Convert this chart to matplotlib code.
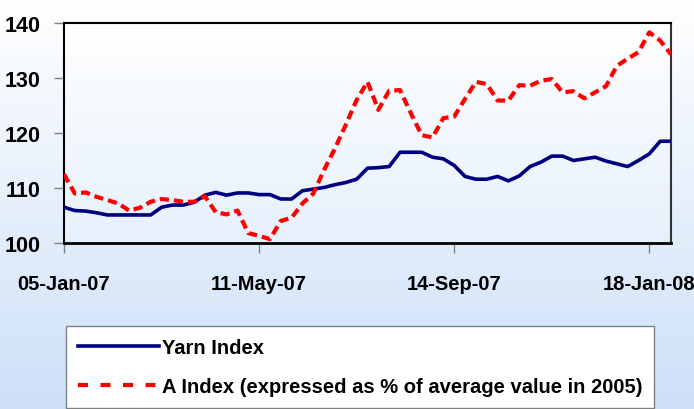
import numpy as np
import matplotlib
matplotlib.use("Agg")
import matplotlib.pyplot as plt
from matplotlib.lines import Line2D
from matplotlib.colors import LinearSegmentedColormap

plt.rcParams['font.family'] = ['Liberation Sans', 'DejaVu Sans']
plt.rcParams['font.weight'] = 'bold'

# weekly observations starting 05-Jan-07
weeks = list(range(57))
yarn_index = [106.5, 105.9, 105.8, 105.5, 105.1, 105.1, 105.1, 105.1, 105.1, 106.5,
              106.9, 106.9, 107.4, 108.7, 109.2, 108.7, 109.1, 109.1, 108.8, 108.8,
              108.0, 108.0, 109.5, 109.8, 110.1, 110.6, 111.0, 111.6, 113.6, 113.7,
              113.9, 116.5, 116.5, 116.5, 115.6, 115.3, 114.1, 112.1, 111.6, 111.6,
              112.1, 111.3, 112.2, 113.9, 114.7, 115.8, 115.8, 115.0, 115.3, 115.6,
              114.9, 114.4, 113.9, 115.0, 116.2, 118.5, 118.5]
a_index = [112.5, 109.0, 109.2, 108.4, 107.8, 107.2, 105.9, 106.4, 107.5, 108.0,
           107.8, 107.5, 107.5, 108.5, 105.6, 105.2, 105.9, 101.8, 101.3, 100.7,
           104.0, 104.6, 107.2, 109.0, 113.3, 117.2, 121.5, 126.0, 129.3, 124.2,
           127.7, 127.8, 123.6, 119.6, 119.2, 122.7, 123.0, 126.2, 129.3, 128.9,
           125.9, 125.9, 128.7, 128.6, 129.5, 129.8, 127.4, 127.6, 126.3, 127.4,
           128.5, 132.2, 133.5, 134.7, 138.3, 136.8, 134.3]
tick_weeks = [0, 18, 36, 54]
tick_labels = ['05-Jan-07', '11-May-07', '14-Sep-07', '18-Jan-08']
y_ticks = [100, 110, 120, 130, 140]
series_labels = ['Yarn Index', 'A Index (expressed as % of average value in 2005)']

W, H = 694, 410
fig = plt.figure(figsize=(W / 100, H / 100), dpi=100)

# figure background gradient
bg = fig.add_axes([0, 0, 1, 1], zorder=-10)
cmap_bg = LinearSegmentedColormap.from_list('bg', ['#ffffff', '#cde0f8'])
grad = np.linspace(0, 1, 256).reshape(-1, 1)
bg.imshow(grad, aspect='auto', cmap=cmap_bg, extent=[0, 1, 0, 1], origin='upper')
bg.axis('off')

left, right, top, bottom = 64, 671, 24, 244
ax = fig.add_axes([left / W, 1 - bottom / H, (right - left) / W, (bottom - top) / H])
cmap_ax = LinearSegmentedColormap.from_list('ax', ['#ffffff', '#e6f0fc'])
ax.imshow(grad, aspect='auto', cmap=cmap_ax, extent=[0, 56, 100, 140], origin='upper', zorder=0)

ax.plot(weeks, yarn_index, color='#000080', lw=2.6, solid_capstyle='butt', zorder=3)
ax.plot(weeks, a_index, color='#ff0000', lw=3.0, dashes=(2.2, 1.2), zorder=4)

ax.set_xlim(0, 56)
ax.set_ylim(100, 140)
ax.set_xticks(tick_weeks)
ax.set_xticklabels(tick_labels)
ax.set_yticks(y_ticks)
ax.tick_params(axis='x', labelsize=14.5, length=7, width=1, color='#808080', direction='out', pad=15)
ax.tick_params(axis='y', labelsize=15.5, length=7, width=1, color='#808080', direction='out', pad=10)
for lab in ax.get_xticklabels() + ax.get_yticklabels():
    lab.set_fontweight('bold')
for side in ['left', 'bottom', 'top']:
    ax.spines[side].set_color('#000000')
    ax.spines[side].set_linewidth(1.5)
ax.spines['right'].set_color('#333333')
ax.spines['right'].set_linewidth(1.5)
ax.spines['bottom'].set_linewidth(2.0)

handles = [Line2D([], [], color='#000080', lw=2.6),
           Line2D([], [], color='#ff0000', lw=3.0, dashes=(2.4, 3.0))]
leg = fig.legend(handles, series_labels, loc='upper left',
                 bbox_to_anchor=(66 / W, 1 - 327 / H), bbox_transform=fig.transFigure,
                 fontsize=14.5, frameon=True, fancybox=False, shadow=False,
                 handlelength=4.0, handletextpad=0.15, borderpad=0.6,
                 labelspacing=1.0, borderaxespad=0)
leg.get_frame().set_edgecolor('#808080')
leg.get_frame().set_linewidth(1.0)
leg.get_frame().set_facecolor('#ffffff')
leg.get_frame().set_alpha(1.0)
for t in leg.get_texts():
    t.set_fontweight('bold')

fig.savefig('out.png', dpi=100)
